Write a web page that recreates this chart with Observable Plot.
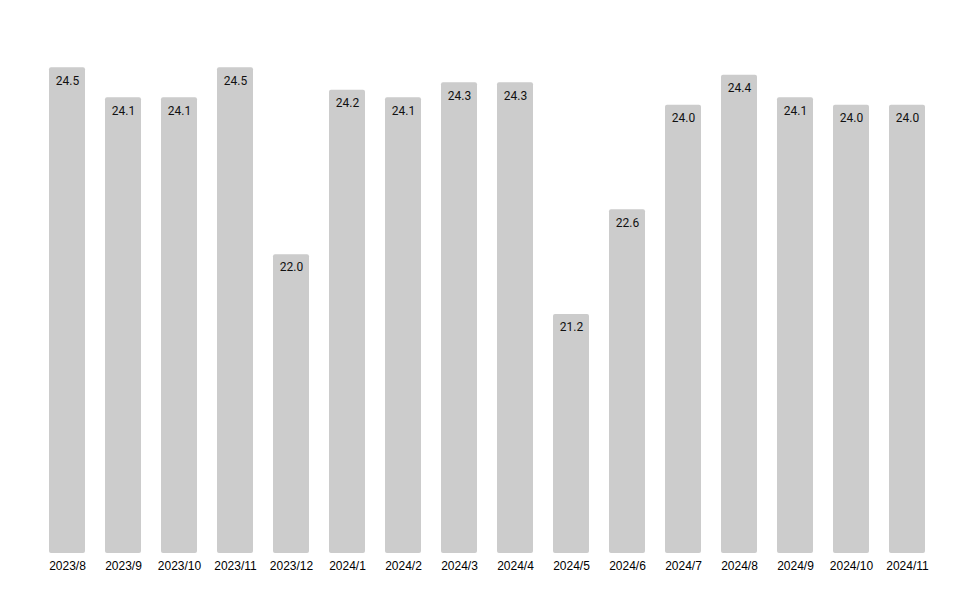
<!DOCTYPE html>
<html>
<head>
<meta charset="utf-8">
<script src="https://cdn.jsdelivr.net/npm/d3@7"></script>
<script src="https://cdn.jsdelivr.net/npm/@observablehq/plot@0.6"></script>
<style>
  html, body { margin: 0; padding: 0; background: #fff; }
</style>
</head>
<body>
<div id="chart"></div>
<script>
const months = ["2023/8","2023/9","2023/10","2023/11","2023/12","2024/1","2024/2","2024/3","2024/4","2024/5","2024/6","2024/7","2024/8","2024/9","2024/10","2024/11"];
const values = [24.5, 24.1, 24.1, 24.5, 22.0, 24.2, 24.1, 24.3, 24.3, 21.2, 22.6, 24.0, 24.4, 24.1, 24.0, 24.0];

const data = months.map((m, i) => ({month: m, value: values[i]}));

const chart = Plot.plot({
  width: 975,
  height: 603,
  marginTop: 30,
  marginBottom: 50,
  marginLeft: 29,
  marginRight: 30,
  style: {background: "#fff", fontFamily: "Liberation Sans, Arial, sans-serif"},
  x: {domain: months, padding: 0.357, label: null},
  y: {domain: [18, 25], axis: null},
  marks: [
    Plot.barY(data, {x: "month", y1: 18, y2: "value", fill: "#cccccc", rx: 2}),
    Plot.text(data, {x: "month", y: "value", text: d => d.value.toFixed(1), dy: 13, fill: "#111", fontSize: 12, fontFamily: "Roboto"}),
    Plot.axisX({tickSize: 0, tickPadding: 8, fontSize: 12, label: null})
  ]
});
document.getElementById("chart").append(chart);
</script>
</body>
</html>
